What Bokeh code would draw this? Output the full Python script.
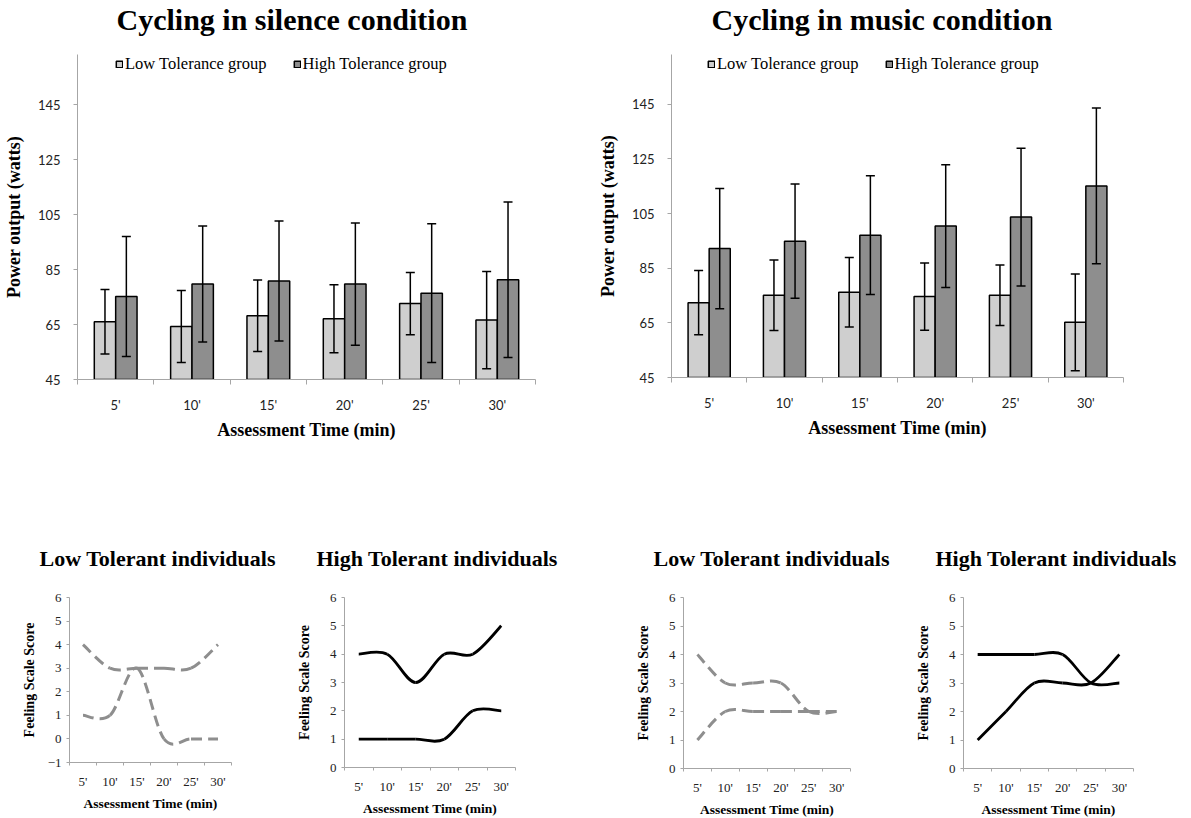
from bokeh.plotting import figure
from bokeh.models import (ColumnDataSource, Whisker, TeeHead, FixedTicker, Range1d,
                          Legend, LegendItem, Title)
from bokeh.layouts import row, column
from bokeh.embed import file_html
from bokeh.resources import INLINE

# ---------------- data ----------------
times = ["5'", "10'", "15'", "20'", "25'", "30'"]

silence_low = [66.0, 64.3, 68.2, 67.1, 72.6, 66.6]
silence_low_sd = [11.7, 13.1, 13.0, 12.4, 11.3, 17.7]
silence_high = [75.2, 79.7, 80.8, 79.7, 76.4, 81.3]
silence_high_sd = [21.8, 21.1, 21.8, 22.2, 25.2, 28.3]

music_low = [72.4, 75.1, 76.2, 74.6, 75.1, 65.2]
music_low_sd = [11.8, 12.9, 12.7, 12.3, 11.1, 17.7]
music_high = [92.2, 94.9, 97.1, 100.4, 103.7, 115.1]
music_high_sd = [22.0, 20.9, 21.7, 22.5, 25.2, 28.5]

power_ticks = [45, 65, 85, 105, 125, 145]

sil_low_ind_a = [4, 3, 3, 3, 3, 4]
sil_low_ind_b = [1, 1, 3, 0, 0, 0]
sil_high_ind_a = [4, 4, 3, 4, 4, 5]
sil_high_ind_b = [1, 1, 1, 1, 2, 2]
mus_low_ind_a = [4, 3, 3, 3, 2, 2]
mus_low_ind_b = [1, 2, 2, 2, 2, 2]
mus_high_ind_a = [4, 4, 4, 4, 3, 3]
mus_high_ind_b = [1, 2, 3, 3, 3, 4]

# ---------------- styles ----------------
SERIF = "Liberation Serif"
SANS = "Lato"
AXIS_GRAY = "#a6a6a6"
LOW_FILL = "#cfcfcf"
HIGH_FILL = "#8e8e8e"
DASH_GRAY = "#8e8e8e"

centers = [i + 0.5 for i in range(len(times))]
bounds = [float(i) for i in range(len(times) + 1)]
overrides = {c: t for c, t in zip(centers, times)}


def style_common(p):
    p.grid.visible = False
    p.outline_line_color = None
    p.background_fill_color = "white"
    p.border_fill_color = "white"


def style_x(p, font, size, color, lab_standoff, axlab_size, axlab_standoff, tick_out):
    ax = p.xaxis[0]
    ax.ticker = FixedTicker(ticks=centers, minor_ticks=bounds)
    ax.major_label_overrides = overrides
    ax.major_tick_out = 0
    ax.major_tick_in = 0
    ax.minor_tick_out = tick_out
    ax.minor_tick_in = 0
    ax.minor_tick_line_color = AXIS_GRAY
    ax.axis_line_color = AXIS_GRAY
    ax.major_label_text_font = font
    ax.major_label_text_font_size = size
    ax.major_label_text_color = color
    ax.major_label_standoff = lab_standoff
    ax.axis_label = "Assessment Time (min)"
    ax.axis_label_text_font = SERIF
    ax.axis_label_text_font_style = "bold"
    ax.axis_label_text_font_size = axlab_size
    ax.axis_label_text_color = "black"
    ax.axis_label_standoff = axlab_standoff


def style_y(p, ticks, font, size, color, lab_standoff, label, axlab_size, axlab_standoff, tick_out):
    ax = p.yaxis[0]
    ax.ticker = FixedTicker(ticks=ticks, minor_ticks=[])
    ax.major_tick_out = tick_out
    ax.major_tick_in = 0
    ax.minor_tick_out = 0
    ax.minor_tick_in = 0
    ax.major_tick_line_color = AXIS_GRAY
    ax.axis_line_color = AXIS_GRAY
    ax.major_label_text_font = font
    ax.major_label_text_font_size = size
    ax.major_label_text_color = color
    ax.major_label_standoff = lab_standoff
    ax.axis_label = label
    ax.axis_label_text_font = SERIF
    ax.axis_label_text_font_style = "bold"
    ax.axis_label_text_font_size = axlab_size
    ax.axis_label_text_color = "black"
    ax.axis_label_standoff = axlab_standoff


def bar_chart(title, low, low_sd, high, high_sd, borders, fw, fh, ytop, legend_loc,
              title_offset):
    bl, br, bt, bb = borders
    p = figure(frame_width=fw, frame_height=fh, min_border_left=bl, min_border_right=br,
               min_border_top=bt, min_border_bottom=bb, x_range=Range1d(0, 6),
               y_range=Range1d(45, ytop), toolbar_location=None, output_backend="svg",
               title=None)
    style_common(p)
    bw = 0.28
    src_low = ColumnDataSource(dict(x=[c - bw / 2 for c in centers], top=low,
                                    upper=[m + s for m, s in zip(low, low_sd)],
                                    lower=[m - s for m, s in zip(low, low_sd)]))
    src_high = ColumnDataSource(dict(x=[c + bw / 2 for c in centers], top=high,
                                     upper=[m + s for m, s in zip(high, high_sd)],
                                     lower=[m - s for m, s in zip(high, high_sd)]))
    r_low = p.vbar(x="x", top="top", bottom=45, width=bw, source=src_low,
                   fill_color=LOW_FILL, line_color="black", line_width=1.5)
    r_high = p.vbar(x="x", top="top", bottom=45, width=bw, source=src_high,
                    fill_color=HIGH_FILL, line_color="black", line_width=1.5)
    for src in (src_low, src_high):
        w = Whisker(source=src, base="x", upper="upper", lower="lower", dimension="height",
                    line_color="black", line_width=1.5, level="overlay",
                    upper_head=TeeHead(size=9, line_width=1.5, line_color="black"),
                    lower_head=TeeHead(size=9, line_width=1.5, line_color="black"))
        p.add_layout(w)
    style_x(p, SANS, "13px", "#222222", 12, "18px", 4, 5)
    style_y(p, power_ticks, SANS, "13px", "#222222", 13, "Power output (watts)", "18px", 11, 4)
    legend = Legend(items=[LegendItem(label="Low Tolerance group", renderers=[r_low]),
                           LegendItem(label="High Tolerance group", renderers=[r_high])],
                    orientation="horizontal", location=legend_loc, padding=0, margin=0,
                    spacing=26, glyph_width=8, glyph_height=8, label_standoff=2,
                    label_height=16, label_text_font=SERIF, label_text_font_size="16.5px",
                    label_text_color="black", border_line_color=None,
                    background_fill_alpha=0)
    p.add_layout(legend)
    # blank spacer between the frame and the title, so the title sits at the top
    p.add_layout(Title(text=" ", text_font_size="13px", standoff=0), "above")
    p.add_layout(Title(text=title, text_font=SERIF, text_font_style="bold",
                       text_font_size="30px", align="left", vertical_align="top",
                       offset=title_offset, standoff=0, text_color="black"),
                 "above")
    return p


def smooth_parts(xs, ys):
    n = len(xs)
    d = dict(x0=[], y0=[], x1=[], y1=[], cx0=[], cy0=[], cx1=[], cy1=[])
    for i in range(n - 1):
        ip = max(i - 1, 0)
        inx = min(i + 2, n - 1)
        d["x0"].append(xs[i]); d["y0"].append(ys[i])
        d["x1"].append(xs[i + 1]); d["y1"].append(ys[i + 1])
        d["cx0"].append(xs[i] + (xs[i + 1] - xs[ip]) / 6.0)
        d["cy0"].append(ys[i] + (ys[i + 1] - ys[ip]) / 6.0)
        d["cx1"].append(xs[i + 1] - (xs[inx] - xs[i]) / 6.0)
        d["cy1"].append(ys[i + 1] - (ys[inx] - ys[i]) / 6.0)
    return ColumnDataSource(d)


def line_chart(title, series, ymin, dashed, borders, fw, fh, title_offset, title_standoff,
               ylab_standoff):
    bl, br, bt, bb = borders
    p = figure(frame_width=fw, frame_height=fh, min_border_left=bl, min_border_right=br,
               min_border_top=bt, min_border_bottom=bb, x_range=Range1d(0, 6),
               y_range=Range1d(ymin, 6), toolbar_location=None, output_backend="svg",
               title=None)
    style_common(p)
    for ys in series:
        src = smooth_parts(centers, ys)
        if dashed:
            p.bezier(x0="x0", y0="y0", x1="x1", y1="y1", cx0="cx0", cy0="cy0",
                     cx1="cx1", cy1="cy1", source=src, line_color=DASH_GRAY,
                     line_width=3, line_dash="11 6")
        else:
            p.bezier(x0="x0", y0="y0", x1="x1", y1="y1", cx0="cx0", cy0="cy0",
                     cx1="cx1", cy1="cy1", source=src, line_color="black", line_width=2.8)
    style_x(p, SERIF, "13px", "#222222", 8, "13.5px", 4, 3)
    style_y(p, list(range(ymin, 7)), SERIF, "13px", "#222222", 5, "Feeling Scale Score",
            "14px", ylab_standoff, 3)
    p.add_layout(Title(text=title, text_font=SERIF, text_font_style="bold",
                       text_font_size="22px", align="left", vertical_align="top",
                       offset=title_offset, standoff=title_standoff, text_color="black"),
                 "above")
    return p


p1 = bar_chart("Cycling in silence condition", silence_low, silence_low_sd, silence_high,
               silence_high_sd, (77, 55, 54, 141), 458, 325, 163.2, (38, 305), 39)
p2 = bar_chart("Cycling in music condition", music_low, music_low_sd, music_high,
               music_high_sd, (81, 67, 54, 143), 452, 323, 163.2, (36, 303), 40)

pa = line_chart("Low Tolerant individuals", [sil_low_ind_a, sil_low_ind_b], -1, True,
                (69, 59, 75, 57), 162, 165, -30, 50, 8)
pb = line_chart("High Tolerant individuals", [sil_high_ind_a, sil_high_ind_b], 0, False,
                (54, 85, 75, 52), 171, 170, -28, 50, 15)
pc = line_chart("Low Tolerant individuals", [mus_low_ind_a, mus_low_ind_b], 0, True,
                (83, 58, 75, 51), 167, 171, -30, 50, 15)
pd = line_chart("High Tolerant individuals", [mus_high_ind_a, mus_high_ind_b], 0, False,
                (55, 57, 75, 51), 170, 171, -28, 50, 15)

layout = column(row(p1, p2), row(pa, pb, pc, pd))

open("out.html", "w").write(file_html(layout, INLINE))
